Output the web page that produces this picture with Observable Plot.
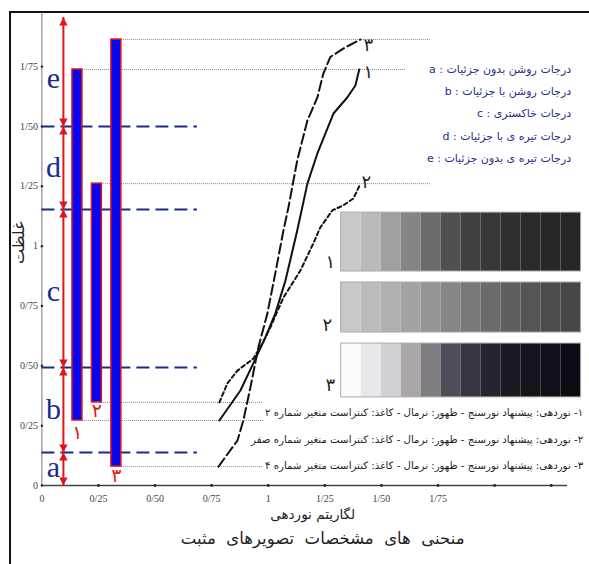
<!DOCTYPE html>
<html><head><meta charset="utf-8">
<script src="https://cdn.jsdelivr.net/npm/d3@7"></script>
<script src="https://cdn.jsdelivr.net/npm/@observablehq/plot@0.6"></script>
<style>
body{margin:0;background:#fff;}
#wrap{position:relative;width:589px;height:564px;overflow:hidden;background:#fff;}
#border{position:absolute;left:9px;top:11px;width:700px;height:700px;border-left:2px solid #111;border-top:2px solid #111;}
#chart{position:absolute;left:0;top:0;}
</style></head><body>
<div id="wrap"><div id="border"></div><div id="chart"></div></div>
<script>
// ---- data ----
const xTicks = [0, 0.25, 0.5, 0.75, 1, 1.25, 1.5, 1.75];
const xTickDots = [0.25, 0.5, 0.75, 1, 1.25, 1.5, 1.75, 2, 2.25];
const yTicks = [0, 0.25, 0.5, 0.75, 1, 1.25, 1.5, 1.75];

const curve1 = [[0.784,0.2715],[0.877,0.397],[0.934,0.510],[0.987,0.618],[1.031,0.718],[1.076,0.856],[1.128,1.065],[1.173,1.261],[1.217,1.387],[1.288,1.554],[1.349,1.621],[1.385,1.671],[1.402,1.738]];
const curve2 = [[0.784,0.347],[0.819,0.426],[0.864,0.480],[0.934,0.530],[0.974,0.593],[1.009,0.660],[1.067,0.785],[1.142,0.898],[1.199,1.011],[1.230,1.078],[1.283,1.149],[1.331,1.170],[1.376,1.199],[1.393,1.232],[1.407,1.261]];
const curve3 = [[0.780,0.079],[0.864,0.188],[0.890,0.272],[0.921,0.409],[0.956,0.576],[0.996,0.718],[1.031,0.886],[1.067,1.065],[1.089,1.161],[1.128,1.358],[1.173,1.525],[1.217,1.621],[1.243,1.720],[1.274,1.790],[1.340,1.830],[1.407,1.863]];
const curveNames = ["۱", "۲", "۳"];
const curveLabelX = [1.442, 1.433, 1.442];
const curveLabelY = [1.725, 1.266, 1.838];

const barNames = ["۱", "۲", "۳"];
const barX = [0.157, 0.243, 0.329];
const barMin = [0.2715, 0.347, 0.079];
const barMax = [1.738, 1.261, 1.863];
const barLabelY = [0.221, 0.313, 0.040];

const zoneLetters = ["e", "d", "c", "b", "a"];
const zoneHi = [1.955, 1.5, 1.153, 0.493, 0.138];
const zoneLo = [1.5, 1.153, 0.493, 0.138, 0];
const zoneLetterY = [1.70, 1.328, 0.81, 0.32, 0.075];
const zoneArrowX = 0.095;
const zoneLetterX = 0.051;
const zoneDashY = [1.5, 1.153, 0.493, 0.138];
const zoneDashEnd = 0.687;

const refY = [1.863, 1.738, 1.261, 0.347, 0.2715, 0.079];
const refX1 = [0.351, 0.179, 0.263, 0.263, 0.179, 0.351];
const refX2 = [1.72, 1.607, 1.72, 0.979, 0.979, 0.979];

const stripNames = ["۱", "۲", "۳"];
const stripTop = [1.140, 0.848, 0.593];
const stripBottom = [0.894, 0.639, 0.368];
const stripLabelX = [1.274, 1.261, 1.274];
const stripLabelY = [0.931, 0.668, 0.418];
const stripStart = 1.322, stripEnd = 2.382;
const strip1Gray = ["#c9c9c9","#bababa","#9f9f9f","#858585","#6b6b6b","#505050","#414141","#373737","#2f2f2f","#2a2a2a","#272727","#262626"];
const strip2Gray = ["#c8c8c8","#bcbcbc","#b0b0b0","#a3a3a3","#959595","#868686","#787878","#6b6b6b","#5f5f5f","#555555","#4d4d4d","#474747"];
const strip3Gray = ["#fcfcfc","#e9e9ed","#d1d1d5","#aba7a9","#7f7d81","#4f4d57","#37353f","#25232d","#1b1921","#15131b","#110f17","#0d0b13"];

const legendLines = [
  "a : درجات روشن بدون جزئیات",
  "b : درجات روشن با جزئیات",
  "c : درجات خاکستری",
  "d : درجات تیره ی با جزئیات",
  "e : درجات تیره ی بدون جزئیات"
];
const legendX = 2.338;
const legendY = [1.738, 1.646, 1.554, 1.458, 1.366];

const captions = [
  "۱- نوردهی: پیشنهاد نورسنج - ظهور: نرمال - کاغذ: کنتراست متغیر شماره ۲",
  "۲- نوردهی: پیشنهاد نورسنج - ظهور: نرمال - کاغذ: کنتراست متغیر شماره صفر",
  "۳- نوردهی: پیشنهاد نورسنج - ظهور: نرمال - کاغذ: کنتراست متغیر شماره ۴"
];
const captionX = 2.391;
const captionY = [0.305, 0.192, 0.084];

const xTitle = "لگاریتم نوردهی";
const chartTitle = "منحنی\u00A0 های\u00A0 مشخصات\u00A0 تصویرهای\u00A0 مثبت";
const yTitle = "غلظت";

// ---- helpers ----
const fmt = d => d === 0 ? "0" : Number.isInteger(d) ? String(d) : d.toFixed(2).replace(".", "/");
const RED = "#e2141a", NAVY = "#1c2a8c";
const FA = "DejaVu Sans, sans-serif";
const SERIF = "Liberation Serif, DejaVu Serif, serif";
const triUp = {draw(ctx, size){ const r = Math.sqrt(size/Math.PI); ctx.moveTo(0,0); ctx.lineTo(-r, 1.9*r); ctx.lineTo(r, 1.9*r); ctx.closePath(); }};
const triDown = {draw(ctx, size){ const r = Math.sqrt(size/Math.PI); ctx.moveTo(0,0); ctx.lineTo(-r, -1.9*r); ctx.lineTo(r, -1.9*r); ctx.closePath(); }};

const bars = barNames.map((n,i) => ({n, x: barX[i], lo: barMin[i], hi: barMax[i], ly: barLabelY[i]}));
const barHalf = 0.022;
const refs = refY.map((y,i) => ({y, x1: refX1[i], x2: refX2[i]}));
const cellW = (stripEnd - stripStart) / 12;
const cells = [];
[strip1Gray, strip2Gray, strip3Gray].forEach((g, s) => g.forEach((c, i) => cells.push({
  x1: stripStart + i*cellW, x2: stripStart + (i+1)*cellW, y1: stripBottom[s], y2: stripTop[s], c
})));
const strips = stripNames.map((n,s) => ({n, y1: stripBottom[s], y2: stripTop[s], lx: stripLabelX[s], ly: stripLabelY[s]}));
const curves = [curve1, curve2, curve3];
const curveStyles = [null, "4,3", "10,4"];

const marks = [
  // reference dotted lines
  Plot.ruleY(refs, {y: "y", x1: "x1", x2: "x2", stroke: "#8a8a8a", strokeWidth: 1, strokeDasharray: "1,1"}),
  // axes lines
  Plot.ruleX([0], {y1: 0, y2: 1.976, stroke: "#777", strokeWidth: 1}),
  Plot.ruleY([0], {x1: 0, x2: 2.322, stroke: "#444", strokeWidth: 1.5}),
  Plot.dot(yTicks, {x: 0, y: d => d, r: 1.2, fill: "#222"}),
  Plot.dot(xTickDots, {x: d => d, y: 0, r: 1.4, fill: "#222"}),
  Plot.axisY(yTicks, {tickFormat: fmt, tickSize: 0, tickPadding: 4, fontFamily: SERIF, fontSize: 10, fill: "#444", label: null}),
  Plot.axisX(xTicks, {tickFormat: fmt, tickSize: 0, tickPadding: 9, fontFamily: SERIF, fontSize: 10, fill: "#444", label: null}),
  // zone dashed lines
  Plot.ruleY(zoneDashY, {x1: 0, x2: zoneDashEnd, stroke: NAVY, strokeWidth: 2, strokeDasharray: "13,6"}),
  // red arrow
  Plot.ruleX([zoneArrowX], {y1: 0, y2: zoneHi[0], stroke: RED, strokeWidth: 2}),
  Plot.dot(zoneHi, {x: zoneArrowX, y: d => d, symbol: triUp, r: 4.2, fill: RED, stroke: null}),
  Plot.dot(zoneLo, {x: zoneArrowX, y: d => d, symbol: triDown, r: 4.2, fill: RED, stroke: null}),
  Plot.text(zoneLetters, {x: zoneLetterX, y: (d,i) => zoneLetterY[i], text: d => d, fill: NAVY, fontSize: 30, fontFamily: SERIF}),
  // bars
  Plot.rect(bars, {x1: d => d.x - barHalf, x2: d => d.x + barHalf, y1: "lo", y2: "hi", fill: "#0505f0", stroke: RED, strokeWidth: 1.5}),
  Plot.text(bars, {x: "x", y: "ly", text: "n", fill: RED, fontSize: 19, fontFamily: FA}),
  // strips
  Plot.rect(cells, {x1: "x1", x2: "x2", y1: "y1", y2: "y2", fill: "c"}),
  Plot.rect(strips, {x1: stripStart, x2: stripEnd, y1: "y1", y2: "y2", fill: "none", stroke: "#aaa", strokeWidth: 1}),
  Plot.text(strips, {x: "lx", y: "ly", text: "n", fill: "#222", fontSize: 18, fontFamily: FA}),
  // curves
  ...curves.map((c, i) => Plot.line(c, {x: d => d[0], y: d => d[1], stroke: "#111", strokeWidth: 2, strokeDasharray: curveStyles[i]})),
  Plot.text(curveNames, {x: (d,i) => curveLabelX[i], y: (d,i) => curveLabelY[i], text: d => d, fill: "#222", fontSize: 18, fontFamily: FA}),
  // legend
  Plot.text(legendLines, {x: legendX, y: (d,i) => legendY[i], text: d => d, textAnchor: "end", fill: "#262c86", fontSize: 11, fontFamily: FA}),
  // captions
  Plot.text(captions, {x: captionX, y: (d,i) => captionY[i], text: d => "\u202B" + d + "\u202C", textAnchor: "end", fill: "#1e1e1e", fontSize: 10.2, fontFamily: FA}),
  // titles
  Plot.text([xTitle], {frameAnchor: "bottom", dx: 8, dy: 33, text: d => d, fontSize: 13.5, fill: "#222", fontFamily: FA}),
  Plot.text([chartTitle], {frameAnchor: "bottom", dx: 18, dy: 58, text: d => d, fontSize: 16.5, fill: "#222", fontFamily: FA}),
  Plot.text([yTitle], {frameAnchor: "left", dx: -23, dy: 15, rotate: -90, text: d => d, fontSize: 16, fill: "#222", fontFamily: FA})
];

const chart = Plot.plot({
  width: 589, height: 564,
  marginLeft: 41.4, marginRight: 22, marginTop: 12, marginBottom: 79,
  x: {domain: [0, 2.322], axis: null},
  y: {domain: [0, 1.976], axis: null},
  color: {type: "identity"},
  style: {background: "transparent", overflow: "visible"},
  marks
});
document.getElementById("chart").appendChild(chart);
</script></body></html>
